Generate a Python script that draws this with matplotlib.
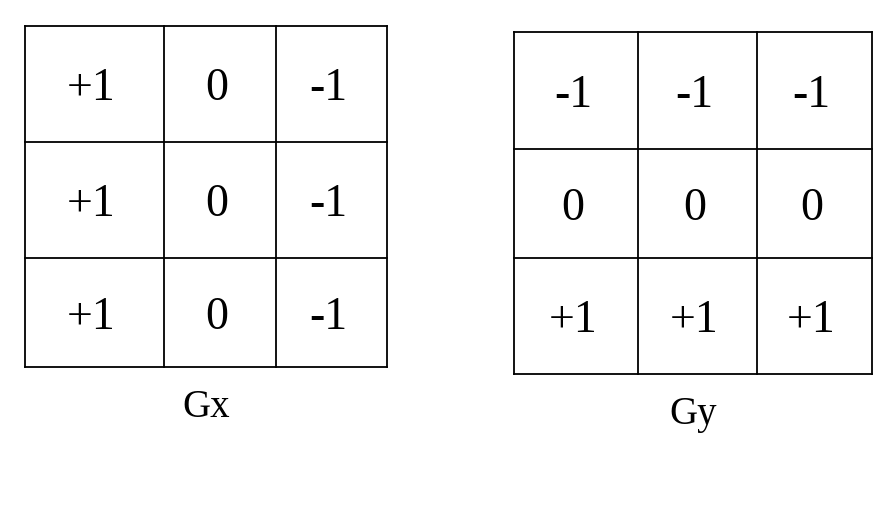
import matplotlib.pyplot as plt

# kernel values
gx = [["+1", "0", "-1"],
      ["+1", "0", "-1"],
      ["+1", "0", "-1"]]
gy = [["-1", "-1", "-1"],
      ["0", "0", "0"],
      ["+1", "+1", "+1"]]
names = ["Gx", "Gy"]

# grid edges in pixel coords
gx_cols = [25, 164, 276, 387]
gx_rows = [27, 143, 259, 368]
gy_cols = [514, 638, 757, 872]
gy_rows = [33, 150, 259, 375]

fig = plt.figure(figsize=(8.92, 5.10), dpi=100)
ax = fig.add_axes([0, 0, 1, 1])
ax.set_xlim(0, 892)
ax.set_ylim(510, 0)
ax.axis("off")

def grid(vals, cols, rows, name):
    for c in cols:
        ax.plot([c, c], [rows[0], rows[-1]], color="black", lw=1.3)
    for r in rows:
        ax.plot([cols[0], cols[-1]], [r, r], color="black", lw=1.3)
    for i in range(3):
        for j in range(3):
            ax.text((cols[j] + cols[j + 1]) / 2 - 3, (rows[i] + rows[i + 1]) / 2 + 4,
                    vals[i][j], ha="center", va="center",
                    fontsize=33, family="Liberation Serif")
    ax.text((cols[0] + cols[-1]) / 2, rows[-1] + 40, name,
            ha="center", va="center", fontsize=28, family="Liberation Serif")

grid(gx, gx_cols, gx_rows, names[0])
grid(gy, gy_cols, gy_rows, names[1])

fig.savefig("out.png", dpi=100)
